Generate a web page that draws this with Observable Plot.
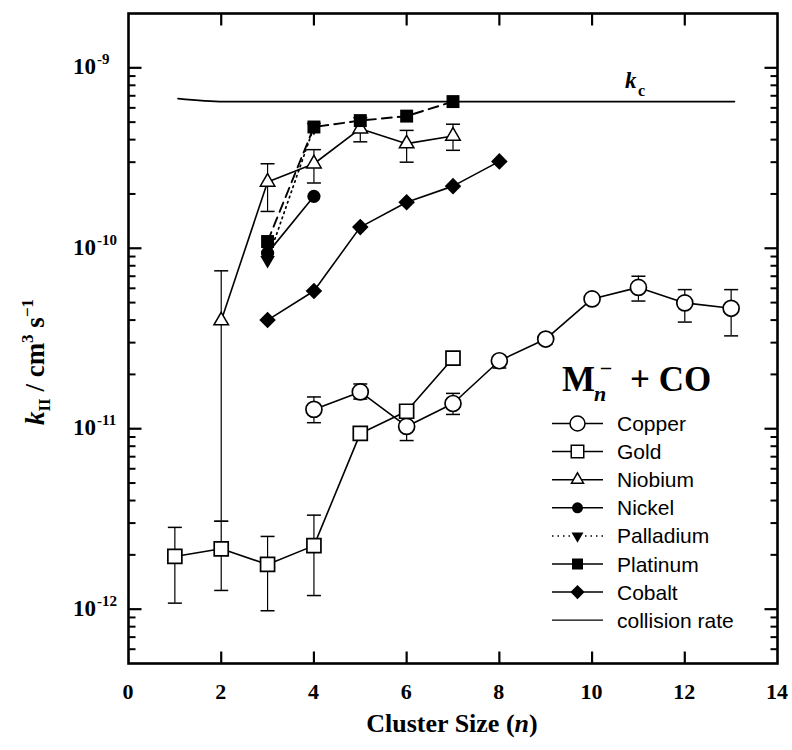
<!DOCTYPE html>
<html>
<head>
<meta charset="utf-8">
<script src="https://cdn.jsdelivr.net/npm/d3@7"></script>
<script src="https://cdn.jsdelivr.net/npm/@observablehq/plot@0.6"></script>
<style>
  html, body { margin: 0; padding: 0; background: #fff; }
  #chart { position: relative; width: 792px; height: 750px; }
  #chart svg { position: absolute; left: 0; top: 0; }
</style>
</head>
<body>
<div id="chart"></div>
<script>
// Rate constants k_II (cm^3 s^-1) of M_n^- + CO versus cluster size n

const copperN  = [4, 5, 6, 7, 8, 9, 10, 11, 12, 13];
const copperK  = [1.28e-11, 1.60e-11, 1.03e-11, 1.38e-11, 2.38e-11, 3.14e-11, 5.24e-11, 6.07e-11, 4.98e-11, 4.65e-11];
const copperLo = [1.08e-11, 1.46e-11, 8.6e-12, 1.20e-11, 2.17e-11, 2.95e-11, 4.95e-11, 5.10e-11, 3.90e-11, 3.27e-11];
const copperHi = [1.50e-11, 1.77e-11, 1.20e-11, 1.57e-11, 2.50e-11, 3.30e-11, 5.50e-11, 7.00e-11, 5.90e-11, 5.90e-11];

const goldN  = [1, 2, 3, 4, 5, 6, 7];
const goldK  = [1.96e-12, 2.16e-12, 1.77e-12, 2.25e-12, 9.42e-12, 1.25e-11, 2.46e-11];
const goldLo = [1.08e-12, 1.27e-12, 9.8e-13, 1.19e-12, null, null, null];
const goldHi = [2.84e-12, 3.07e-12, 2.53e-12, 3.32e-12, null, null, null];

const niobiumN  = [2, 3, 4, 5, 6, 7];
const niobiumK  = [3.97e-11, 2.33e-10, 2.94e-10, 4.60e-10, 3.80e-10, 4.19e-10];
const niobiumLo = [3.07e-12, 1.60e-10, 2.30e-10, 3.89e-10, 3.00e-10, 3.49e-10];
const niobiumHi = [7.50e-11, 2.94e-10, 3.52e-10, 5.30e-10, 4.50e-10, 4.87e-10];

const nickelN = [3, 4];
const nickelK = [9.4e-11, 1.94e-10];

const palladiumN = [3, 4];
const palladiumK = [8.6e-11, 4.7e-10];

const platinumN = [3, 4, 5, 6, 7];
const platinumK = [1.09e-10, 4.7e-10, 5.1e-10, 5.4e-10, 6.5e-10];

const cobaltN = [3, 4, 5, 6, 7, 8];
const cobaltK = [4.0e-11, 5.8e-11, 1.31e-10, 1.80e-10, 2.21e-10, 3.03e-10];

// collision rate k_c
const collisionN = [1.07, 2.05, 13.07];
const collisionK = [6.75e-10, 6.5e-10, 6.5e-10];

const xTicks = [0, 2, 4, 6, 8, 10, 12, 14];
const yMajor = [1e-12, 1e-11, 1e-10, 1e-9];
const yMajorLabels = ["-12", "-11", "-10", "-9"];
const yDomain = [5e-13, 2e-9];

const legendNames = ["Copper", "Gold", "Niobium", "Nickel", "Palladium", "Platinum", "Cobalt", "collision rate"];

// minor log ticks 2..9 within each decade
const yMinor = [];
for (let e = -13; e <= -9; e++) {
  for (let m = 2; m <= 9; m++) {
    const v = m * Math.pow(10, e);
    if (v > yDomain[0] * 1.001 && v < yDomain[1] * 0.999) yMinor.push(v);
  }
}

const rows = (ns, ks, lo, hi) => ns.map((n, i) => ({n, k: ks[i], lo: lo ? lo[i] : null, hi: hi ? hi[i] : null}));
const copper = rows(copperN, copperK, copperLo, copperHi);
const gold = rows(goldN, goldK, goldLo, goldHi);
const niobium = rows(niobiumN, niobiumK, niobiumLo, niobiumHi);
const nickel = rows(nickelN, nickelK);
const palladium = rows(palladiumN, palladiumK);
const platinum = rows(platinumN, platinumK);
const cobalt = rows(cobaltN, cobaltK);
const collision = rows(collisionN, collisionK);
const errs = [...copper, ...gold, ...niobium].filter(d => d.lo != null);

// line symbols (r = half length) used for error-bar caps and axis ticks
const hLine = {draw(ctx, size) { const r = Math.sqrt(size / Math.PI); ctx.moveTo(-r, 0); ctx.lineTo(r, 0); }};
const vLine = {draw(ctx, size) { const r = Math.sqrt(size / Math.PI); ctx.moveTo(0, -r); ctx.lineTo(0, r); }};

const ink = "#000";
const lineW = 1.6;

function yTickMarks(list, len, w) {
  return [
    Plot.dot(list, {y: d => d, frameAnchor: "left", symbol: hLine, r: len / 2, dx: len / 2, stroke: ink, fill: "none", strokeWidth: w}),
    Plot.dot(list, {y: d => d, frameAnchor: "right", symbol: hLine, r: len / 2, dx: -len / 2, stroke: ink, fill: "none", strokeWidth: w})
  ];
}
function xTickMarks(list, len, w) {
  return [
    Plot.dot(list, {x: d => d, frameAnchor: "bottom", symbol: vLine, r: len / 2, dy: -len / 2, stroke: ink, fill: "none", strokeWidth: w}),
    Plot.dot(list, {x: d => d, frameAnchor: "top", symbol: vLine, r: len / 2, dy: len / 2, stroke: ink, fill: "none", strokeWidth: w})
  ];
}

const plot = Plot.plot({
  width: 792,
  height: 750,
  marginLeft: 128,
  marginRight: 15,
  marginTop: 13,
  marginBottom: 87,
  style: {background: "white"},
  x: {domain: [0, 14], axis: null},
  y: {type: "log", domain: yDomain, axis: null},
  marks: [
    // collision rate
    Plot.line(collision, {x: "n", y: "k", stroke: ink, strokeWidth: 1.8, curve: "monotone-x"}),
    // series lines
    Plot.line(copper, {x: "n", y: "k", stroke: ink, strokeWidth: lineW}),
    Plot.line(gold, {x: "n", y: "k", stroke: ink, strokeWidth: lineW}),
    Plot.line(niobium, {x: "n", y: "k", stroke: ink, strokeWidth: lineW}),
    Plot.line(nickel, {x: "n", y: "k", stroke: ink, strokeWidth: lineW}),
    Plot.line(palladium, {x: "n", y: "k", stroke: ink, strokeWidth: 1.7, strokeDasharray: "1.5,4"}),
    Plot.line(platinum, {x: "n", y: "k", stroke: ink, strokeWidth: 1.9, strokeDasharray: "10,6"}),
    Plot.line(cobalt, {x: "n", y: "k", stroke: ink, strokeWidth: lineW}),
    // error bars
    Plot.ruleX(errs, {x: "n", y1: "lo", y2: "hi", stroke: ink, strokeWidth: 1.2}),
    Plot.dot(errs, {x: "n", y: "lo", symbol: hLine, r: 7, stroke: ink, fill: "none", strokeWidth: 1.5}),
    Plot.dot(errs, {x: "n", y: "hi", symbol: hLine, r: 7, stroke: ink, fill: "none", strokeWidth: 1.5}),
    // markers
    Plot.dot(copper, {x: "n", y: "k", symbol: "circle", r: 8, fill: "white", stroke: ink, strokeWidth: 1.7}),
    Plot.dot(gold, {x: "n", y: "k", symbol: "square", r: 7.9, fill: "white", stroke: ink, strokeWidth: 1.7}),
    Plot.dot(niobium, {x: "n", y: "k", symbol: "triangle", r: 5.4, fill: "white", stroke: ink, strokeWidth: 1.5}),
    Plot.dot(palladium, {x: "n", y: "k", symbol: "triangle", rotate: 180, r: 5.4, fill: ink, stroke: "none"}),
    Plot.dot(nickel, {x: "n", y: "k", symbol: "circle", r: 6.6, fill: ink, stroke: "none"}),
    Plot.dot(platinum, {x: "n", y: "k", symbol: "square", r: 7.3, fill: ink, stroke: "none"}),
    Plot.dot(cobalt, {x: "n", y: "k", symbol: "square", rotate: 45, r: 6.6, fill: ink, stroke: "none"}),
    // axes
    ...yTickMarks(yMajor, 13, 2.2),
    ...yTickMarks(yMinor, 7, 2),
    ...xTickMarks(xTicks.slice(1, -1), 12, 2.2),
    Plot.frame({stroke: ink, strokeWidth: 2.6})
  ]
});

const chart = document.getElementById("chart");
chart.appendChild(plot);

const sx = plot.scale("x");
const sy = plot.scale("y");
const serif = "'Liberation Serif', 'Times New Roman', serif";
const sans = "'Liberation Sans', Arial, sans-serif";

const svg = d3.create("svg").attr("width", 792).attr("height", 750).style("pointer-events", "none");
chart.appendChild(svg.node());

// y tick labels 10^e
yMajor.forEach((v, i) => {
  const y = sy.apply(v);
  svg.append("text").attr("x", 96).attr("y", y + 7).attr("text-anchor", "end")
    .attr("font-family", serif).attr("font-weight", "bold").attr("font-size", 23).text("10");
  svg.append("text").attr("x", 97).attr("y", y - 3).attr("text-anchor", "start")
    .attr("font-family", serif).attr("font-weight", "bold").attr("font-size", 15).text(yMajorLabels[i]);
});

// x tick labels
xTicks.forEach(v => {
  svg.append("text").attr("x", sx.apply(v)).attr("y", 699).attr("text-anchor", "middle")
    .attr("font-family", serif).attr("font-weight", "bold").attr("font-size", 22).text(String(v));
});

// x axis title
const xt = svg.append("text").attr("x", 452).attr("y", 732).attr("text-anchor", "middle")
  .attr("font-family", serif).attr("font-weight", "bold").attr("font-size", 26);
xt.append("tspan").text("Cluster Size (");
xt.append("tspan").attr("font-style", "italic").text("n");
xt.append("tspan").text(")");

// y axis title
const yt = svg.append("text").attr("transform", "translate(44,362) rotate(-90)").attr("text-anchor", "middle")
  .attr("font-family", serif).attr("font-weight", "bold").attr("font-size", 27);
yt.append("tspan").attr("font-style", "italic").text("k");
yt.append("tspan").attr("font-size", 17).attr("dy", 6).text("II");
yt.append("tspan").attr("dy", -6).text(" / cm");
yt.append("tspan").attr("font-size", 17).attr("dy", -11).text("3");
yt.append("tspan").attr("dy", 11).text(" s");
yt.append("tspan").attr("font-size", 17).attr("dy", -11).text("\u22121");

// k_c label next to the collision-rate line
const kcX = sx.apply(10.72), kcY = sy.apply(6.5e-10);
svg.append("text").attr("x", kcX).attr("y", kcY - 13).attr("font-family", serif)
  .attr("font-weight", "bold").attr("font-style", "italic").attr("font-size", 23).text("k");
svg.append("text").attr("x", kcX + 13).attr("y", kcY - 5).attr("font-family", serif)
  .attr("font-weight", "bold").attr("font-size", 16).text("c");

// legend title M_n^- + CO
const tY = 391;
svg.append("text").attr("x", 562).attr("y", tY).attr("font-family", serif).attr("font-weight", "bold")
  .attr("font-size", 35).text("M");
svg.append("text").attr("x", 594).attr("y", tY + 10).attr("font-family", serif).attr("font-weight", "bold")
  .attr("font-style", "italic").attr("font-size", 22).text("n");
svg.append("text").attr("x", 601).attr("y", tY - 17).attr("font-family", serif).attr("font-weight", "bold")
  .attr("font-size", 20).text("\u2013");
svg.append("text").attr("x", 630).attr("y", tY).attr("font-family", serif).attr("font-weight", "bold")
  .attr("font-size", 35).text("+ CO");

// legend rows
const legX0 = 552, legX1 = 603, legMid = 577.5, legText = 617;
const legY0 = 423.5, legStep = 28.1;
const legendStyle = [
  {sym: d3.symbolCircle, size: Math.PI * 7.5 * 7.5, fill: "white", dash: null},
  {sym: d3.symbolSquare, size: 12.5 * 12.5, fill: "white", dash: null},
  {sym: d3.symbolTriangle, size: 0.433 * 12 * 12, fill: "white", dash: null},
  {sym: d3.symbolCircle, size: Math.PI * 5.5 * 5.5, fill: ink, dash: null},
  {sym: d3.symbolTriangle, size: 0.433 * 12 * 12, fill: ink, dash: "1.5,4", rot: 180},
  {sym: d3.symbolSquare, size: 11 * 11, fill: ink, dash: null},
  {sym: d3.symbolSquare, size: 10 * 10, fill: ink, dash: null, rot: 45},
  {sym: null}
];
legendNames.forEach((name, i) => {
  const y = legY0 + i * legStep;
  const st = legendStyle[i];
  svg.append("line").attr("x1", legX0).attr("x2", legX1).attr("y1", y).attr("y2", y)
    .attr("stroke", ink).attr("stroke-width", st.sym ? 1.5 : 1.3)
    .attr("stroke-dasharray", st.dash);
  if (st.sym) {
    svg.append("path").attr("d", d3.symbol(st.sym, st.size)())
      .attr("transform", `translate(${legMid},${y}) rotate(${st.rot || 0})`)
      .attr("fill", st.fill).attr("stroke", st.fill === "white" ? ink : "none").attr("stroke-width", 1.5);
  }
  svg.append("text").attr("x", legText).attr("y", y + 7.5).attr("font-family", sans)
    .attr("font-size", 21).text(name);
});
</script>
</body>
</html>
